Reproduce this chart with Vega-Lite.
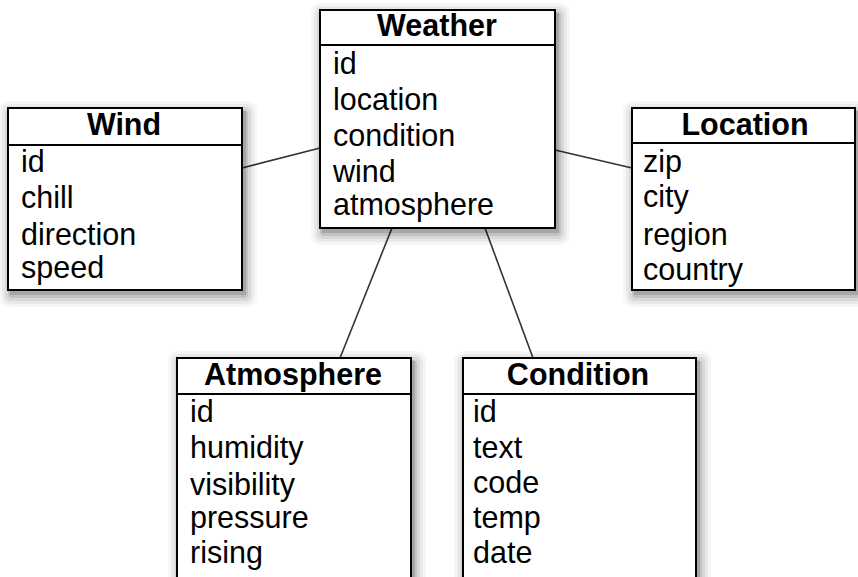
{
  "$schema": "https://vega.github.io/schema/vega-lite/v6.json",
  "width": 858,
  "height": 577,
  "padding": 0,
  "autosize": {"type": "none"},
  "background": "white",
  "config": {"view": {"stroke": null}},
  "datasets": {
    "boxes": [
      {"name": "Weather", "x1": 320, "x2": 555, "y1": 10, "yd": 45, "y2": 228, "cx": 437, "hy": 36},
      {"name": "Wind", "x1": 8, "x2": 242, "y1": 108, "yd": 145, "y2": 290, "cx": 124, "hy": 135},
      {"name": "Location", "x1": 632, "x2": 855, "y1": 108, "yd": 143, "y2": 290, "cx": 745, "hy": 135},
      {"name": "Atmosphere", "x1": 177, "x2": 411, "y1": 358, "yd": 394, "y2": 600, "cx": 293, "hy": 385},
      {"name": "Condition", "x1": 463, "x2": 696, "y1": 358, "yd": 394, "y2": 600, "cx": 578, "hy": 385}
    ],
    "links": [
      {"x": 242, "y": 168, "x2": 320, "y2": 148},
      {"x": 555, "y": 150, "x2": 632, "y2": 168},
      {"x": 392, "y": 228, "x2": 340, "y2": 358},
      {"x": 485, "y": 228, "x2": 533, "y2": 358}
    ],
    "fields": [
      {"box": "Weather", "label": "id", "tx": 333, "ty": 74},
      {"box": "Weather", "label": "location", "tx": 333, "ty": 110},
      {"box": "Weather", "label": "condition", "tx": 333, "ty": 146},
      {"box": "Weather", "label": "wind", "tx": 333, "ty": 182},
      {"box": "Weather", "label": "atmosphere", "tx": 333, "ty": 215},
      {"box": "Wind", "label": "id", "tx": 21, "ty": 172},
      {"box": "Wind", "label": "chill", "tx": 21, "ty": 208},
      {"box": "Wind", "label": "direction", "tx": 21, "ty": 245},
      {"box": "Wind", "label": "speed", "tx": 21, "ty": 278},
      {"box": "Location", "label": "zip", "tx": 643, "ty": 172},
      {"box": "Location", "label": "city", "tx": 643, "ty": 207},
      {"box": "Location", "label": "region", "tx": 643, "ty": 245},
      {"box": "Location", "label": "country", "tx": 643, "ty": 280},
      {"box": "Atmosphere", "label": "id", "tx": 190, "ty": 422},
      {"box": "Atmosphere", "label": "humidity", "tx": 190, "ty": 458},
      {"box": "Atmosphere", "label": "visibility", "tx": 190, "ty": 495},
      {"box": "Atmosphere", "label": "pressure", "tx": 190, "ty": 528},
      {"box": "Atmosphere", "label": "rising", "tx": 190, "ty": 563},
      {"box": "Condition", "label": "id", "tx": 473, "ty": 422},
      {"box": "Condition", "label": "text", "tx": 473, "ty": 458},
      {"box": "Condition", "label": "code", "tx": 473, "ty": 493},
      {"box": "Condition", "label": "temp", "tx": 473, "ty": 528},
      {"box": "Condition", "label": "date", "tx": 473, "ty": 563}
    ]
  },
  "layer": [
    {
      "data": {"name": "links"},
      "mark": {"type": "rule", "color": "#333333", "strokeWidth": 1.6},
      "encoding": {
        "x": {"field": "x", "type": "quantitative", "scale": {"domain": [0, 858], "nice": false, "zero": false}, "axis": null},
        "y": {"field": "y", "type": "quantitative", "scale": {"domain": [0, 577], "nice": false, "zero": false, "reverse": true}, "axis": null},
        "x2": {"field": "x2"},
        "y2": {"field": "y2"}
      }
    },
    {
      "data": {"name": "boxes"},
      "mark": {"type": "rect", "fill": "black", "opacity": 0.035, "cornerRadius": 10, "xOffset": -9, "x2Offset": 15, "yOffset": -7, "y2Offset": 17},
      "encoding": {"x": {"field": "x1", "type": "quantitative"}, "x2": {"field": "x2"}, "y": {"field": "y1", "type": "quantitative"}, "y2": {"field": "y2"}}
    },
    {
      "data": {"name": "boxes"},
      "mark": {"type": "rect", "fill": "black", "opacity": 0.05, "cornerRadius": 8, "xOffset": -6, "x2Offset": 12, "yOffset": -4, "y2Offset": 14},
      "encoding": {"x": {"field": "x1", "type": "quantitative"}, "x2": {"field": "x2"}, "y": {"field": "y1", "type": "quantitative"}, "y2": {"field": "y2"}}
    },
    {
      "data": {"name": "boxes"},
      "mark": {"type": "rect", "fill": "black", "opacity": 0.07, "cornerRadius": 6, "xOffset": -3, "x2Offset": 9, "yOffset": -1, "y2Offset": 11},
      "encoding": {"x": {"field": "x1", "type": "quantitative"}, "x2": {"field": "x2"}, "y": {"field": "y1", "type": "quantitative"}, "y2": {"field": "y2"}}
    },
    {
      "data": {"name": "boxes"},
      "mark": {"type": "rect", "fill": "black", "opacity": 0.1, "cornerRadius": 4, "xOffset": 0, "x2Offset": 6, "yOffset": 2, "y2Offset": 8},
      "encoding": {"x": {"field": "x1", "type": "quantitative"}, "x2": {"field": "x2"}, "y": {"field": "y1", "type": "quantitative"}, "y2": {"field": "y2"}}
    },
    {
      "data": {"name": "boxes"},
      "mark": {"type": "rect", "fill": "black", "opacity": 0.14, "xOffset": 2, "x2Offset": 4, "yOffset": 3, "y2Offset": 5},
      "encoding": {"x": {"field": "x1", "type": "quantitative"}, "x2": {"field": "x2"}, "y": {"field": "y1", "type": "quantitative"}, "y2": {"field": "y2"}}
    },
    {
      "data": {"name": "boxes"},
      "mark": {"type": "rect", "fill": "white", "stroke": "black", "strokeWidth": 2},
      "encoding": {"x": {"field": "x1", "type": "quantitative"}, "x2": {"field": "x2"}, "y": {"field": "y1", "type": "quantitative"}, "y2": {"field": "y2"}}
    },
    {
      "data": {"name": "boxes"},
      "mark": {"type": "rule", "color": "black", "strokeWidth": 2},
      "encoding": {
        "x": {"field": "x1", "type": "quantitative"},
        "x2": {"field": "x2"},
        "y": {"field": "yd", "type": "quantitative"}
      }
    },
    {
      "data": {"name": "boxes"},
      "mark": {"type": "text", "font": "Liberation Sans", "fontWeight": "bold", "fontSize": 30.5, "align": "center", "baseline": "alphabetic", "color": "black"},
      "encoding": {
        "x": {"field": "cx", "type": "quantitative"},
        "y": {"field": "hy", "type": "quantitative"},
        "text": {"field": "name"}
      }
    },
    {
      "data": {"name": "fields"},
      "mark": {"type": "text", "font": "Liberation Sans", "fontSize": 30.5, "align": "left", "baseline": "alphabetic", "color": "black"},
      "encoding": {
        "x": {"field": "tx", "type": "quantitative"},
        "y": {"field": "ty", "type": "quantitative"},
        "text": {"field": "label"}
      }
    }
  ]
}
